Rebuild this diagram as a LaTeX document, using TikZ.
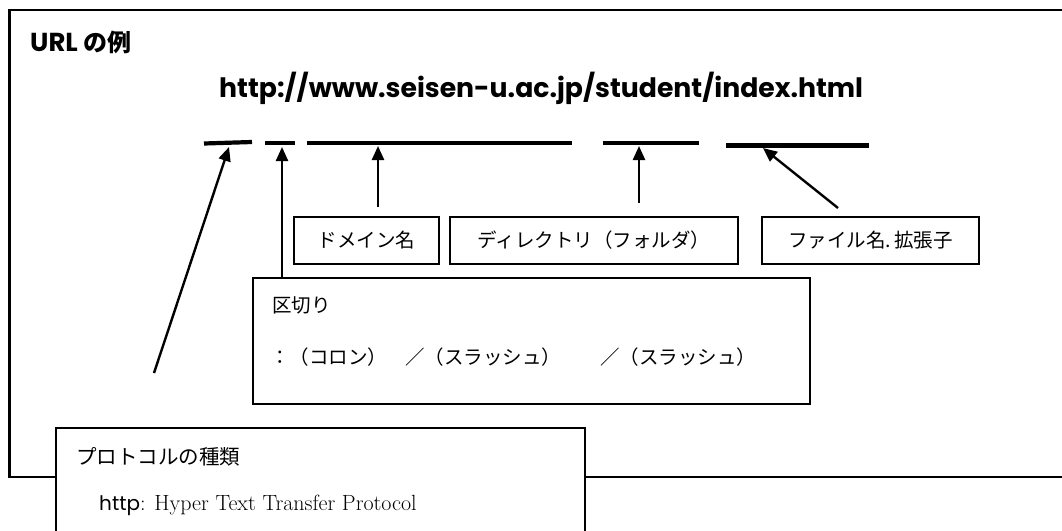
\documentclass[tikz,border=0pt]{standalone}
\usepackage{fontspec}
\newfontfamily\jp{Noto Sans CJK JP}
\newfontfamily\geo{Poppins}
\usetikzlibrary{arrows.meta}
\tikzset{
  frameline/.style={line width=2.6pt},
  lbox/.style={draw, line width=1.6pt, minimum height=47pt, inner sep=0pt,
    font=\jp\fontsize{19.5}{22}\selectfont},
  bigbox/.style={draw, line width=1.6pt, fill=white, inner sep=0pt},
  uline/.style={line width=4.2pt},
  ptr/.style={line width=2.4pt, -{Triangle[length=14pt,width=12pt]}},
  jptext/.style={inner sep=0pt, anchor=west, font=\jp\fontsize{19.5}{22}\selectfont},
}
\begin{document}
\begin{tikzpicture}[x=1pt,y=-1pt]
\useasboundingbox (0,0) rectangle (1062,530);
\clip (0,0) rectangle (1062,530);
\fill[white] (0,0) rectangle (1062,530);
% outer frame
\draw[frameline] (9.5,10) rectangle (1080,477);
% title
\node[inner sep=0pt, anchor=west] (title) at (30,42)
  {\geo\bfseries\fontsize{26}{30}\selectfont URL {\jp\bfseries\fontsize{24}{30}\selectfont の例}};
% URL
\node[inner sep=0pt, anchor=west] (url) at (219,88)
  {\geo\bfseries\fontsize{26.7}{32}\selectfont http://www.seisen-u.ac.jp/student/index.html};
% underlines
\coordinate (u1a) at (204,143.5); \coordinate (u1b) at (252,142);
\coordinate (u2a) at (265,143);   \coordinate (u2b) at (295,143);
\coordinate (u3a) at (307,143);   \coordinate (u3b) at (572,143);
\coordinate (u4a) at (603,143);   \coordinate (u4b) at (699,143);
\coordinate (u5a) at (726,145.5); \coordinate (u5b) at (869,145.5);
\draw[uline] (u1a) -- (u1b);
\draw[uline] (u2a) -- (u2b);
\draw[uline] (u3a) -- (u3b);
\draw[uline] (u4a) -- (u4b);
\draw[uline] (u5a) -- (u5b);
% label boxes
\node[lbox, minimum width=145pt] (dom) at (366.5,240.5) {ドメイン名};
\node[lbox, minimum width=288pt] (dir) at (594,240.5) {ディレクトリ（フォルダ）};
\node[lbox, minimum width=217pt] (file) at (870.5,240.5) {ファイル名.\,拡張子};
% separator box
\node[bigbox, minimum width=557pt, minimum height=126pt] (sep) at (531.5,341) {};
\node[jptext] (septitle) at (272,305) {区切り};
\node[jptext] (sepline) at (270,357)
  {：（コロン）\hspace{18pt}／（スラッシュ）\hspace{39pt}／（スラッシュ）};
% protocol box
\node[bigbox, minimum width=529pt, minimum height=140pt] (proto) at (320.5,498) {};
\node[jptext, font=\jp\fontsize{20.5}{24}\selectfont] (prottitle) at (76,457) {プロトコルの種類};
\node[inner sep=0pt, anchor=west] (protline) at (99,505)
  {{\geo\fontsize{20}{24}\selectfont http}{\fontsize{22}{26}\selectfont : Hyper Text Transfer Protocol}};
% arrows
\coordinate (t1) at (154,373);
\coordinate (h1) at (229,147);
\draw[ptr] (t1) -- (h1);
\coordinate (h2) at (282,147);
\draw[ptr] (sep.north west -| h2) -- (h2);
\coordinate (t3) at (378,207); \coordinate (h3) at (378,146);
\draw[ptr] (t3) -- (h3);
\coordinate (t4) at (639,203); \coordinate (h4) at (639,146);
\draw[ptr] (t4) -- (h4);
\coordinate (t5) at (838,208); \coordinate (h5) at (763,148);
\draw[ptr] (t5) -- (h5);
\end{tikzpicture}
\end{document}
